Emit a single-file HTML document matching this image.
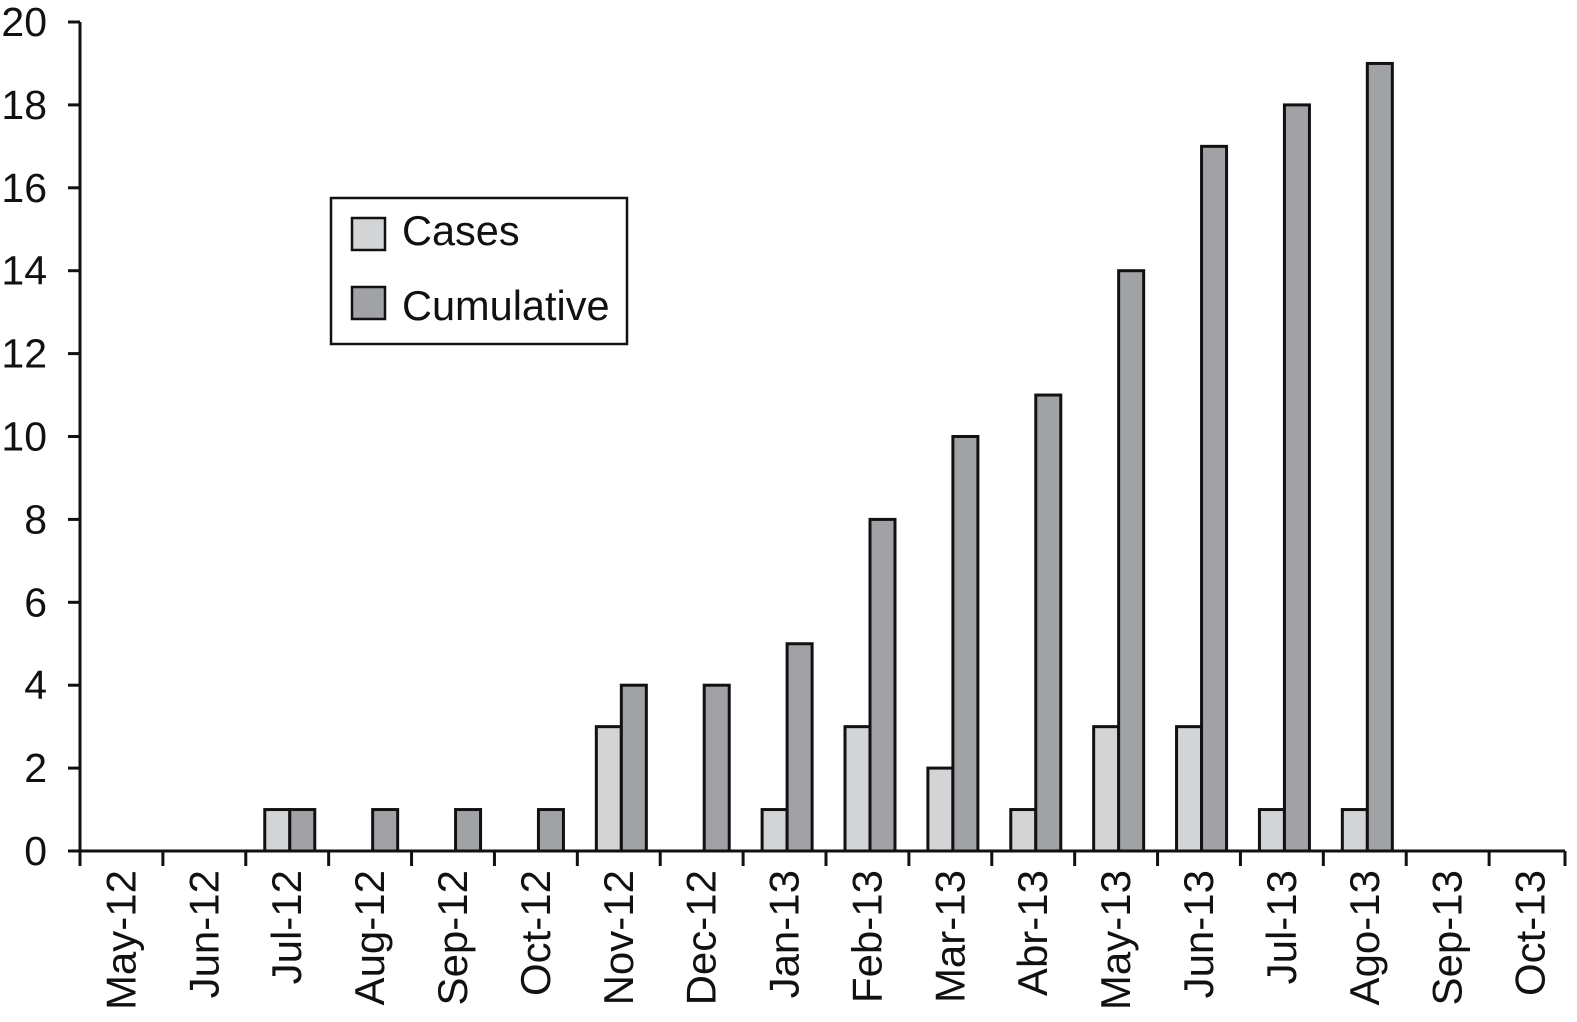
<!DOCTYPE html>
<html><head><style>body{margin:0;background:#fff}</style></head>
<body>
<svg id="chart" width="1577" height="1017" xmlns="http://www.w3.org/2000/svg" font-family="Liberation Sans, sans-serif"></svg>
<script>
const categories=["May-12","Jun-12","Jul-12","Aug-12","Sep-12","Oct-12","Nov-12","Dec-12","Jan-13","Feb-13","Mar-13","Abr-13","May-13","Jun-13","Jul-13","Ago-13","Sep-13","Oct-13"];
const cases=[0,0,1,0,0,0,3,0,1,3,2,1,3,3,1,1,0,0];
const cumulative=[0,0,1,1,1,1,4,4,5,8,10,11,14,17,18,19,0,0];
const yTicks=[0,2,4,6,8,10,12,14,16,18,20];
const svg=document.getElementById('chart');
const NS='http://www.w3.org/2000/svg';
const x0=80,x1=1572,y0=851,yTop=22;
const cw=(x1-x0)/categories.length;
const yS=v=>y0-(y0-yTop)*v/20;
const xS=i=>x0+i*cw;
function mk(t,a,p){const e=document.createElementNS(NS,t);for(const k in a)e.setAttribute(k,a[k]);(p||svg).appendChild(e);return e;}
cases.forEach((v,i)=>{if(v<=0)return;
 const r=mk('rect',{x:xS(i)+19,y:yS(v),width:25,height:y0-yS(v),fill:'#d3d4d6',stroke:'#111','stroke-width':3});
 
 });
cumulative.forEach((v,i)=>{if(v<=0)return;
 const r=mk('rect',{x:xS(i)+44,y:yS(v),width:25,height:y0-yS(v),fill:'#a1a2a5',stroke:'#111','stroke-width':3});
 
 });
const ya=mk('line',{x1:x0,y1:yTop,x2:x0,y2:y0,stroke:'#111','stroke-width':3});


const xa=mk('line',{x1:x0,y1:y0,x2:1565,y2:y0,stroke:'#111','stroke-width':3});


yTicks.forEach(v=>{
 mk('line',{x1:x0-12,y1:yS(v),x2:x0,y2:yS(v),stroke:'#111','stroke-width':3});
 const t=mk('text',{x:47,y:yS(v)+14,'text-anchor':'end','font-size':41,fill:'#111'});
 t.textContent=v;
 
 });
for(let i=0;i<=categories.length;i++){const xx=Math.min(xS(i),1565);mk('line',{x1:xx,y1:y0,x2:xx,y2:y0+15,stroke:'#111','stroke-width':3});}
categories.forEach((c,i)=>{
 const cx=xS(i)+cw/2+14,cy=870;
 const t=mk('text',{x:cx,y:cy,transform:`rotate(-90 ${cx} ${cy})`,'text-anchor':'end','font-size':42,fill:'#111'});
 t.textContent=c;
 
 });
const lg=mk('g',{});


mk('rect',{x:331,y:198,width:296,height:146,fill:'#fff',stroke:'#111','stroke-width':2.5},lg);
mk('rect',{x:352,y:218,width:33,height:32,fill:'#d3d4d6',stroke:'#111','stroke-width':2.5},lg);
mk('rect',{x:352,y:287,width:33,height:32,fill:'#a1a2a5',stroke:'#111','stroke-width':2.5},lg);
const l1=mk('text',{x:402,y:245,'font-size':41.5,fill:'#111'},lg);l1.textContent='Cases';


const l2=mk('text',{x:402,y:320,'font-size':41.5,fill:'#111'},lg);l2.textContent='Cumulative';


</script>
</body></html>
